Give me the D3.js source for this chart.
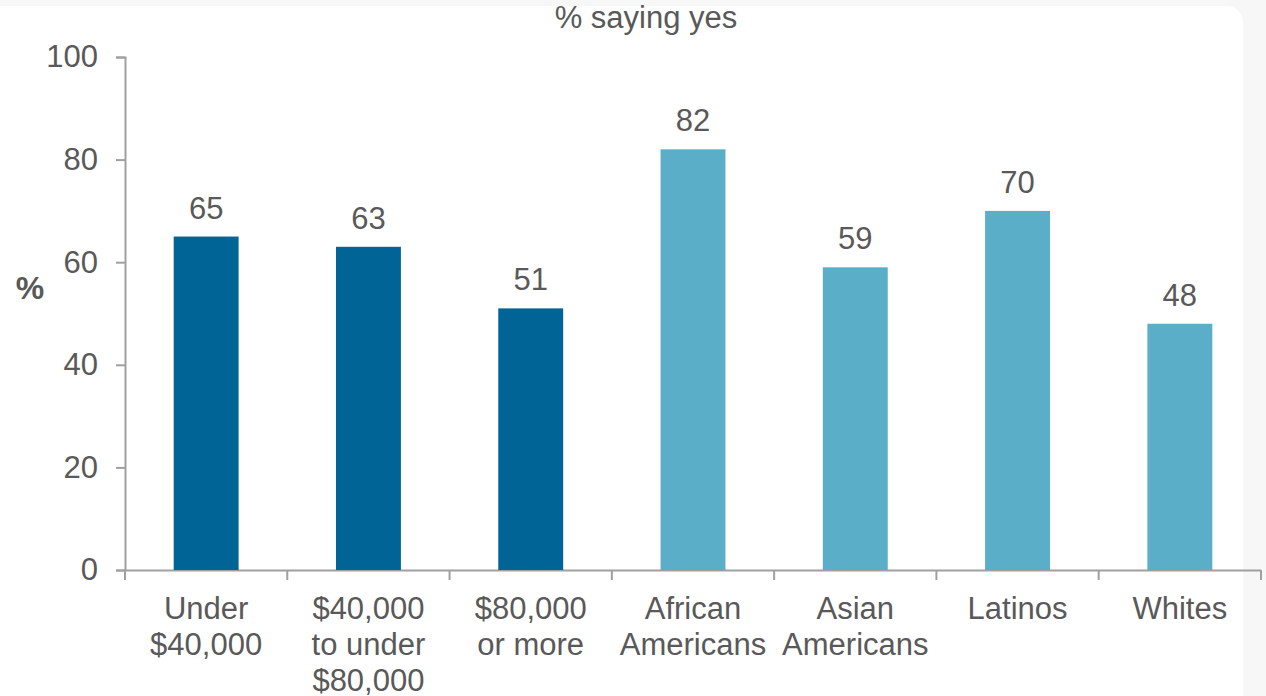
<!DOCTYPE html>
<html><head><meta charset="utf-8">
<script src="https://cdn.jsdelivr.net/npm/d3@7/dist/d3.min.js"></script>
<style>
html,body{margin:0;padding:0;background:#f7f7f7;}
svg{display:block;font-family:"Liberation Sans",Arial,sans-serif;}
</style></head>
<body><svg id="c" width="1266" height="696"></svg>
<script>
const categories = [["Under","$40,000"],["$40,000","to under","$80,000"],["$80,000","or more"],["African","Americans"],["Asian","Americans"],["Latinos"],["Whites"]];
const values = [65, 63, 51, 82, 59, 70, 48];
const groups = ["income","income","income","race","race","race","race"];
const yTicks = [0, 20, 40, 60, 80, 100];
const title = "% saying yes";
const yLabel = "%";

const colors = {income:"#006596", race:"#5aaec7"};
const FS = 31;
const svg = d3.select("#c");
svg.append("rect").attr("x",-20).attr("y",6).attr("width",1263).attr("height",720).attr("rx",16).attr("fill","#ffffff");

const x = d3.scaleBand().domain(d3.range(categories.length)).range([125,1261]).paddingInner(0.6).paddingOuter(0.3);
const y = d3.scaleLinear().domain([0,100]).range([570,57]);
const textCol = "#595959", axisCol = "#a0a0a0";

// y axis
const ya = svg.append("g").attr("transform","translate(125,0)")
  .call(d3.axisLeft(y).tickValues(yTicks).tickSize(9).tickPadding(18));
ya.select(".domain").attr("stroke",axisCol).attr("stroke-width",2);
ya.selectAll(".tick line").attr("stroke",axisCol).attr("stroke-width",2);
ya.selectAll(".tick text").attr("fill",textCol).attr("font-size",FS).attr("font-family","Liberation Sans, Arial, sans-serif");

// x axis baseline with ticks at band boundaries
const bounds = d3.range(categories.length+1).map(i => 125 + i*x.step());
svg.append("line").attr("x1",125).attr("x2",1261).attr("y1",570.5).attr("y2",570.5).attr("stroke",axisCol).attr("stroke-width",2);
svg.selectAll(".xt").data(bounds).join("line").attr("x1",d=>d).attr("x2",d=>d).attr("y1",570).attr("y2",580).attr("stroke",axisCol).attr("stroke-width",2);

// bars
svg.selectAll(".bar").data(values).join("rect")
  .attr("x",(d,i)=>x(i)).attr("width",x.bandwidth())
  .attr("y",d=>y(d)).attr("height",d=>y(0)-y(d))
  .attr("fill",(d,i)=>colors[groups[i]]);

// value labels
svg.selectAll(".vl").data(values).join("text")
  .attr("x",(d,i)=>x(i)+x.bandwidth()/2).attr("y",d=>y(d)-18)
  .attr("text-anchor","middle").attr("fill",textCol).attr("font-size",FS).text(d=>d);

// category labels
categories.forEach((lines,i)=>{
  const t = svg.append("text").attr("text-anchor","middle").attr("fill",textCol).attr("font-size",FS);
  lines.forEach((l,j)=>{
    t.append("tspan").attr("x",x(i)+x.bandwidth()/2).attr("y",619+j*36).text(l);
  });
});

// title
svg.append("text").attr("x",646).attr("y",28).attr("text-anchor","middle").attr("fill",textCol).attr("font-size",FS).text(title);
// y label
svg.append("text").attr("x",30).attr("y",299).attr("text-anchor","middle").attr("fill",textCol).attr("font-size",FS+1).attr("font-weight","bold").text(yLabel);
</script></body></html>
